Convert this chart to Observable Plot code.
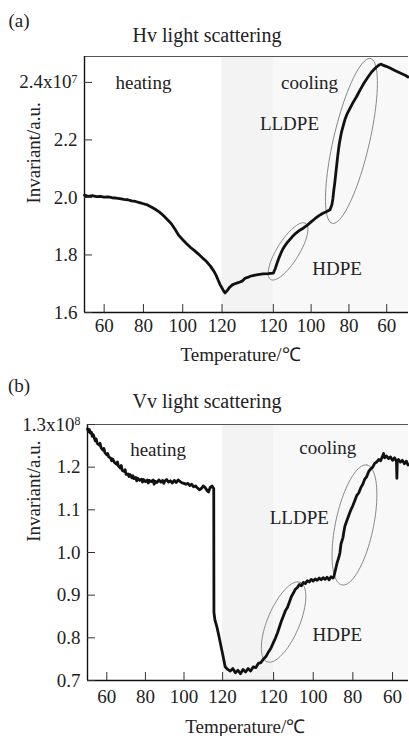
<!DOCTYPE html>
<html><head><meta charset="utf-8">
<script src="https://cdn.jsdelivr.net/npm/d3@7"></script>
<script src="https://cdn.jsdelivr.net/npm/@observablehq/plot@0.6"></script>
<style>
body{margin:0;background:#fff;}
#wrap{position:relative;width:409px;height:736px;font-family:"Liberation Serif",serif;color:#222;overflow:hidden;}
.lbl{position:absolute;white-space:nowrap;transform:translate(-50%,-50%);line-height:1;}
#wrap svg{position:absolute;left:0;}
#wrap svg text{font-family:"Liberation Serif",serif;}
</style></head><body><div id="wrap"></div>
<script>
// ---------- Panel (a): Hv light scattering (x10^7) ----------
const heatA_T = [50,52,54,56,58,60,62,64,66,68,70,72,74,76,78,80,82,84,86,88,90,92,94,96,98,100,102,104,106,108,110,112,114,116,117,118,119,120];
const heatA_V = [2.008,2.004,2.006,2.003,2.004,2.001,2.002,1.999,1.998,1.996,1.993,1.992,1.988,1.986,1.982,1.978,1.974,1.967,1.959,1.950,1.938,1.924,1.910,1.890,1.868,1.853,1.839,1.826,1.815,1.803,1.790,1.778,1.762,1.742,1.729,1.713,1.697,1.685];
const holdA_F = [0,0.03,0.06,0.1,0.15,0.2,0.25,0.3,0.35,0.4,0.45,0.5,0.55,0.6,0.7,0.8,0.9,1.0];
const holdA_V = [1.685,1.675,1.668,1.676,1.688,1.696,1.700,1.703,1.706,1.710,1.719,1.722,1.726,1.728,1.732,1.734,1.735,1.737];
const coolA_T = [120,119,118,117,116,115,114,113,112,110,108,106,104,102,100,98,96,94,92,90,89,88.5,88,87.5,87,86.5,86,85.5,85,84,83,82,81,80,78,76,74,72,70,68,66,64,63,62,60,58,56,54,52,50,48.7];
const coolA_V = [1.737,1.752,1.772,1.790,1.806,1.820,1.831,1.840,1.848,1.863,1.876,1.886,1.894,1.904,1.915,1.926,1.936,1.944,1.950,1.957,1.975,1.995,2.025,2.050,2.080,2.110,2.140,2.167,2.190,2.225,2.250,2.273,2.290,2.303,2.328,2.350,2.375,2.398,2.418,2.436,2.450,2.461,2.463,2.460,2.455,2.449,2.442,2.436,2.430,2.424,2.419];
const yTicksA = [1.6,1.8,2.0,2.2,2.4];
const yLabelsA = ["1.6","1.8","2.0","2.2","2.4x10^7"];

// ---------- Panel (b): Vv light scattering (x10^8) ----------
const heatB_T = [50,50.5,51,51.5,52,52.5,53,54,54.5,55,56,56.5,57,58,58.5,59,60,60.5,61,62,62.5,63,64,65,65.5,66,67,67.5,68,69,69.5,70,71,71.5,72,73,73.5,74,75,75.5,76,77,78,78.5,79,80,81,81.5,82,83,84,84.5,85,86,87,88,89,89.5,90,91,92,93,94,95,96,97,98,99,100,101,102,103,104,105,106,107,108,109,110,111,112,112.7,113.5,114.5,115,115.4,115.5,116,117,118,119,120];
const heatB_V = [1.290,1.283,1.288,1.280,1.282,1.272,1.276,1.262,1.266,1.256,1.252,1.256,1.246,1.240,1.244,1.234,1.229,1.232,1.224,1.221,1.215,1.219,1.211,1.207,1.212,1.203,1.198,1.204,1.192,1.190,1.194,1.183,1.184,1.178,1.183,1.175,1.180,1.173,1.176,1.168,1.174,1.169,1.172,1.165,1.171,1.166,1.170,1.163,1.169,1.166,1.170,1.160,1.167,1.164,1.170,1.165,1.169,1.162,1.167,1.171,1.165,1.168,1.163,1.169,1.164,1.170,1.166,1.163,1.162,1.160,1.162,1.157,1.160,1.154,1.156,1.151,1.147,1.150,1.156,1.152,1.145,1.142,1.152,1.156,1.152,1.150,0.860,0.842,0.826,0.806,0.784,0.762];
const holdB_F = [0,0.05,0.1,0.15,0.2,0.25,0.3,0.35,0.4,0.45,0.5,0.55,0.6,0.65,0.7,0.75,0.8,0.85,0.9,0.95,1.0];
const holdB_V = [0.762,0.732,0.726,0.722,0.728,0.718,0.724,0.716,0.726,0.720,0.728,0.722,0.732,0.730,0.740,0.742,0.750,0.756,0.767,0.776,0.790];
const coolB_T = [120,119,118,117,116,115,114,113,112,111,110,109,108,107,106,105,104,103,102,101,100,99,98,97,96,95,94,93,92,91,90,89.5,89,88,87,86.5,86,85,84.5,84,83,82,81,80,79,78,77,76,75,74,73,72,71,70,69,68,67,66,65,64.5,64,63,62,61,60,59,58,57.8,57.6,57,56,55,54,53,52.2];
const coolB_V = [0.790,0.800,0.812,0.826,0.840,0.852,0.864,0.871,0.884,0.897,0.905,0.914,0.918,0.925,0.922,0.930,0.927,0.934,0.931,0.937,0.933,0.938,0.935,0.940,0.936,0.941,0.937,0.942,0.936,0.943,0.940,0.945,0.955,0.975,0.990,1.000,1.020,1.035,1.050,1.062,1.075,1.088,1.100,1.110,1.122,1.134,1.140,1.152,1.160,1.172,1.178,1.190,1.196,1.200,1.209,1.212,1.218,1.215,1.226,1.232,1.222,1.226,1.220,1.224,1.216,1.222,1.214,1.174,1.212,1.218,1.212,1.216,1.208,1.214,1.205];
const yTicksB = [0.7,0.8,0.9,1.0,1.1,1.2,1.3];
const yLabelsB = ["0.7","0.8","0.9","1.0","1.1","1.2","1.3x10^8"];

// x tick labels (temperature, heating then cooling)
const heatTicks = [60,80,100,120];
const coolTicks = [120,100,80,60];

// annotations
const notesA = [
  {text:"heating", x:80.0, y:2.397},
  {text:"cooling", x:164.5, y:2.397},
  {text:"LLDPE", x:154.3, y:2.257},
  {text:"HDPE", x:178.6, y:1.753}
];
const notesB = [
  {text:"heating", x:86.6, y:1.241},
  {text:"cooling", x:174.5, y:1.245},
  {text:"LLDPE", x:159.7, y:1.081},
  {text:"HDPE", x:179.4, y:0.806}
];
// ellipses: major axis endpoints (data coords) + half width in px
const ellA = [
  {p1:[144.66,1.715], p2:[162.5,1.910], b:11},
  {p1:[176.1,1.910], p2:[195.6,2.483], b:18}
];
const ellB = [
  {p1:[142.95,0.744], p2:[160.2,0.930], b:16},
  {p1:[181.8,0.924], p2:[194.8,1.205], b:19}
];

const panels = [
  {heatT:heatA_T, heatV:heatA_V, holdF:holdA_F, holdV:holdA_V, coolT:coolA_T, coolV:coolA_V,
   holdLen:26.1, coolK:0.962, xEnd:214.9, y0:1.6, yTop:2.49, yTicks:yTicksA, yLabels:yLabelsA,
   notes:notesA, ells:ellA, top:0, height:372, mt:56, mb:60, ml:84, mr:1,
   ylabY:1.979, ylabDx:-51, xlabX:129.4, xlabDy:48, xPad:6,
   tag:"(a)", title:"Hv light scattering", tagY:20, titleY:35},
  {heatT:heatB_T, heatV:heatB_V, holdF:holdB_F, holdV:holdB_V, coolT:coolB_T, coolV:coolB_V,
   holdLen:26.4, coolK:1.027, xEnd:216.3, y0:0.7, yTop:1.3, yTicks:yTicksB, yLabels:yLabelsB,
   notes:notesB, ells:ellB, top:372, height:364, mt:52, mb:56, ml:87, mr:1,
   ylabY:1.025, ylabDx:-54, xlabX:131.7, xlabDy:52, xPad:9,
   tag:"(b)", title:"Vv light scattering", tagY:385, titleY:401}
];

const wrap = document.getElementById("wrap");
const W = 409;
const FONT = '"Liberation Serif", "Times New Roman", serif';

function addLabel(text, x, y, size) {
  const d = document.createElement("div");
  d.className = "lbl";
  d.style.left = x + "px"; d.style.top = y + "px"; d.style.fontSize = size + "px";
  d.textContent = text;
  wrap.appendChild(d);
}

panels.forEach(P => {
  const coolStart = 120 + P.holdLen;
  const coolPos = t => coolStart + (120 - t) * P.coolK;
  const pts = [];
  P.heatT.forEach((t, i) => pts.push({x: t, y: P.heatV[i]}));
  P.holdF.forEach((f, i) => pts.push({x: 120 + f * P.holdLen, y: P.holdV[i]}));
  P.coolT.forEach((t, i) => pts.push({x: coolPos(t), y: P.coolV[i]}));

  const xTickPos = heatTicks.concat(coolTicks.map(coolPos));
  const xTickLab = heatTicks.concat(coolTicks).map(String);
  const xFmt = d => { const i = xTickPos.findIndex(p => Math.abs(p - d) < 1e-6); return i < 0 ? "" : xTickLab[i]; };
  const yFmt = d => { const i = P.yTicks.findIndex(p => Math.abs(p - d) < 1e-9); return i < 0 ? "" : P.yLabels[i]; };

  const kx = (W - P.ml - P.mr) / (P.xEnd - 50);
  const ky = (P.height - P.mt - P.mb) / (P.yTop - P.y0);
  const ellPts = [];
  P.ells.forEach((e, k) => {
    const ax = e.p1[0]*kx, ay = -e.p1[1]*ky, bx = e.p2[0]*kx, by = -e.p2[1]*ky;
    const cx = (ax+bx)/2, cy = (ay+by)/2;
    const a = Math.hypot(bx-ax, by-ay)/2, th = Math.atan2(by-ay, bx-ax);
    for (let j = 0; j <= 90; j++) {
      const t = j/90*2*Math.PI;
      const px = cx + a*Math.cos(t)*Math.cos(th) - e.b*Math.sin(t)*Math.sin(th);
      const py = cy + a*Math.cos(t)*Math.sin(th) + e.b*Math.sin(t)*Math.cos(th);
      ellPts.push({x: px/kx, y: -py/ky, k});
    }
  });

  const svg = Plot.plot({
    width: W, height: P.height,
    marginTop: P.mt, marginBottom: P.mb, marginLeft: P.ml, marginRight: P.mr,
    style: {fontFamily: FONT, fontSize: "19px", background: "transparent", color: "#222"},
    x: {domain: [50, P.xEnd], axis: null},
    y: {domain: [P.y0, P.yTop], axis: null},
    marks: [
      Plot.rect([{x1: 120, x2: coolStart}], {x1: "x1", x2: "x2", y1: P.y0, y2: P.yTop, fill: "#f3f3f3"}),
      Plot.rect([{x1: coolStart, x2: P.xEnd}], {x1: "x1", x2: "x2", y1: P.y0, y2: P.yTop, fill: "#f8f8f8"}),
      Plot.ruleY([P.yTop], {stroke: "#555", strokeWidth: 1.2}),
      Plot.line(ellPts, {x: "x", y: "y", z: "k", stroke: "#7a7a7a", strokeWidth: 0.9, curve: "linear"}),
      Plot.line(pts, {x: "x", y: "y", stroke: "#111", strokeWidth: 2.8, strokeLinejoin: "round"}),
      Plot.ruleY([P.y0], {stroke: "#111", strokeWidth: 1.4}),
      Plot.ruleX([50], {stroke: "#111", strokeWidth: 1.4}),
      Plot.axisX(xTickPos, {anchor: "bottom", label: null, tickSize: 8, dy: -8, tickFormat: () => "", stroke: "#333"}),
      Plot.axisX(xTickPos, {anchor: "bottom", label: null, tickSize: 0, tickPadding: P.xPad, tickFormat: xFmt, fontSize: 19, fontFamily: FONT, fill: "#222"}),
      Plot.axisY(P.yTicks, {anchor: "left", label: null, tickSize: 8, dx: 8, tickFormat: () => "", stroke: "#333"}),
      Plot.axisY(P.yTicks, {anchor: "left", label: null, tickSize: 0, tickPadding: 7, tickFormat: yFmt, fontSize: 19, fontFamily: FONT, fill: "#222"}),
      Plot.text(P.notes, {x: "x", y: "y", text: "text", fontSize: 19, fontFamily: FONT, fill: "#222"}),
      Plot.text(["Invariant/a.u."], {y: P.ylabY, frameAnchor: "left", dx: P.ylabDx, rotate: -90, fontSize: 19, fontFamily: FONT, fill: "#222"}),
      Plot.text(["Temperature/℃"], {x: P.xlabX, frameAnchor: "bottom", dy: P.xlabDy, fontSize: 19, fontFamily: FONT, fill: "#222"})
    ]
  });
  svg.style.top = P.top + "px";
  svg.querySelectorAll("text").forEach(t => {
    if (t.textContent.includes("^")) {
      const [base, exp] = t.textContent.split("^");
      t.textContent = base;
      const ts = document.createElementNS("http://www.w3.org/2000/svg", "tspan");
      ts.setAttribute("dy", "-0.5em");
      ts.setAttribute("font-size", "0.62em");
      ts.textContent = exp;
      t.appendChild(ts);
    }
  });
  wrap.appendChild(svg);
  addLabel(P.tag, 19, P.tagY, 19);
  addLabel(P.title, 207, P.titleY, 20);
});
</script></body></html>
